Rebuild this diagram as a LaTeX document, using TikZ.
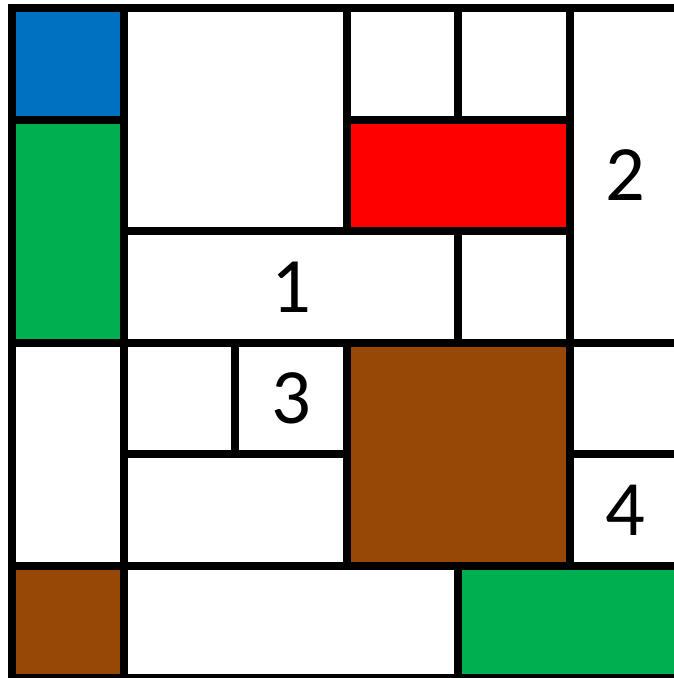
\documentclass[tikz,border=0pt]{standalone}
\usepackage{fontspec}
\setmainfont{Carlito}
\usepackage{xcolor}

\definecolor{cellblue}{HTML}{0070C0}
\definecolor{cellgreen}{HTML}{00B050}
\definecolor{cellred}{HTML}{FF0000}
\definecolor{cellbrown}{HTML}{974706}

\begin{document}
\begin{tikzpicture}
    % Fix the page to the reference size and cut the right edge
    \useasboundingbox (0,0) rectangle (12.078,-12.15);
    \clip (0,0) rectangle (12.078,-12.15);

    % Grid of cells, 2cm each, rows counted downward
    \begin{scope}[shift={(0.215,-0.143)}, x=2cm, y=-2cm,
                  block/.style={draw=black, line width=4pt}]
        % Each block: left/top/right/bottom/fill
        \foreach \l/\t/\r/\b/\c in {
            0/0/1/1/cellblue, 1/0/3/2/white, 3/0/4/1/white, 4/0/5/1/white,
            5/0/6/3/white, 0/1/1/3/cellgreen, 3/1/5/2/cellred,
            1/2/4/3/white, 4/2/5/3/white,
            0/3/1/5/white, 1/3/2/4/white, 2/3/3/4/white, 3/3/5/5/cellbrown,
            5/3/6/4/white, 1/4/3/5/white, 5/4/6/5/white,
            0/5/1/6/cellbrown, 1/5/4/6/white, 4/5/6/6/cellgreen} {
            \draw[block, fill=\c] (\l,\t) rectangle (\r,\b);
        }

        % Numbers in their blocks
        \node[font=\fontsize{40}{48}\selectfont] (numone)   at (2.5,2.5) {1};
        \node[font=\fontsize{40}{48}\selectfont] (numtwo)   at (5.5,1.5) {2};
        \node[font=\fontsize{40}{48}\selectfont] (numthree) at (2.5,3.5) {3};
        \node[font=\fontsize{40}{48}\selectfont] (numfour)  at (5.5,4.5) {4};
    \end{scope}
\end{tikzpicture}
\end{document}
